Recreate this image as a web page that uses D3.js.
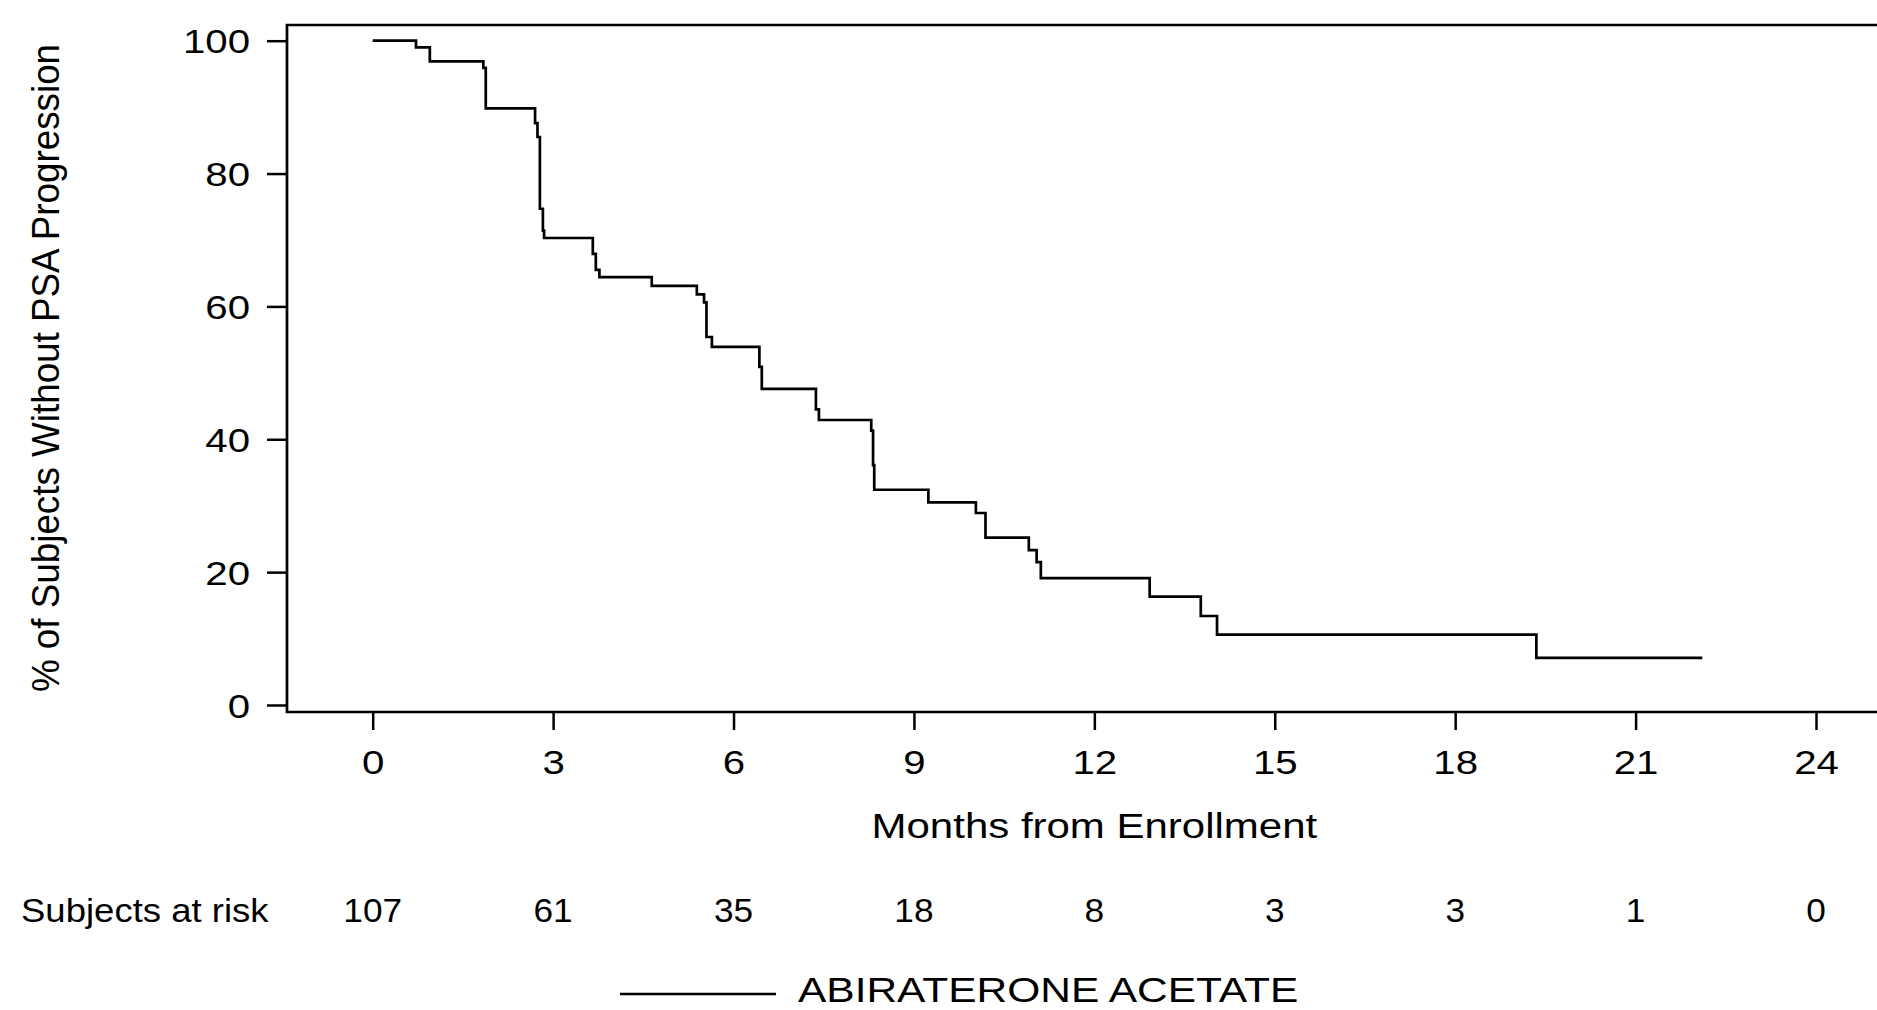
<!DOCTYPE html>
<html>
<head>
<meta charset="utf-8">
<script src="https://cdn.jsdelivr.net/npm/d3@7"></script>
<style>
  body { margin: 0; background: #fff; }
  svg { display: block; font-family: "Liberation Sans", Arial, sans-serif; }
</style>
</head>
<body>
<div id="km"></div>
<script>
// Kaplan-Meier estimate (months, % without PSA progression)
const months   = [0, 0.72, 0.95, 1.84, 1.88, 2.70, 2.74, 2.78, 2.83, 2.85, 3.66, 3.71, 3.77,
                  4.64, 5.39, 5.51, 5.55, 5.64, 6.43, 6.47, 7.37, 7.42, 8.29, 8.32, 8.34,
                  9.24, 10.03, 10.19, 10.91, 11.04, 11.11, 12.92, 13.77, 14.04, 19.35, 22.11];
const survival = [100, 99.0, 96.9, 95.9, 89.8, 87.6, 85.5, 74.7, 71.4, 70.3, 67.9, 65.5, 64.4,
                  63.1, 61.8, 60.6, 55.4, 53.9, 50.9, 47.6, 44.5, 42.9, 41.3, 36.1, 32.4,
                  30.5, 28.9, 25.2, 23.3, 21.5, 19.1, 16.3, 13.4, 10.6, 7.1, 7.1];

const xTicks = [0, 3, 6, 9, 12, 15, 18, 21, 24];
const yTicks = [0, 20, 40, 60, 80, 100];
const atRisk = [107, 61, 35, 18, 8, 3, 3, 1, 0];
const seriesName = "ABIRATERONE ACETATE";

drawKM("#km");

function drawKM(id) {
  const width = 1877, height = 1010;
  // frame of the plot area (right side runs off the picture like in the source)
  const frame = { left: 287, top: 25, bottom: 712 };

  const svg = d3.select(id).append("svg")
    .attr("width", width)
    .attr("height", height);

  const x = d3.scaleLinear().domain([0, 24]).range([372.7, 1816]);
  const y = d3.scaleLinear().domain([0, 100]).range([705, 40.7]);

  // small helper: the source text is drawn a bit wider than normal Arial
  function stretch(sel, tx, ty, sx) {
    sel.attr("transform", "translate(" + tx + "," + ty + ") scale(" + sx + ",1)");
  }

  // frame
  svg.append("path")
    .attr("d", "M" + (width + 5) + "," + frame.top + "H" + frame.left + "V" + frame.bottom + "H" + (width + 5))
    .attr("fill", "none")
    .attr("stroke", "#000")
    .attr("stroke-width", 2.7);

  // x axis
  const xAxis = svg.append("g")
    .attr("transform", "translate(0," + frame.bottom + ")")
    .call(d3.axisBottom(x).tickValues(xTicks).tickSize(18).tickSizeOuter(0));
  xAxis.select(".domain").remove();
  xAxis.attr("font-family", null);
  xAxis.selectAll(".tick line").attr("stroke", "#000").attr("stroke-width", 2.5);
  xAxis.selectAll(".tick text")
    .attr("y", null).attr("dy", null)
    .attr("fill", "#000")
    .style("font-size", "33.5px")
    .each(function() { stretch(d3.select(this), 0, 62, 1.2); });

  // y axis
  const yAxis = svg.append("g")
    .attr("transform", "translate(" + frame.left + ",0)")
    .call(d3.axisLeft(y).tickValues(yTicks).tickSize(20).tickSizeOuter(0));
  yAxis.select(".domain").remove();
  yAxis.attr("font-family", null);
  yAxis.selectAll(".tick line").attr("stroke", "#000").attr("stroke-width", 2.5);
  yAxis.selectAll(".tick text")
    .attr("x", null).attr("dy", "0.36em")
    .attr("fill", "#000")
    .style("font-size", "33.5px")
    .each(function() { stretch(d3.select(this), -37, 0, 1.2); });

  // y title
  svg.append("text")
    .attr("text-anchor", "middle")
    .attr("transform", "translate(58.5,368) scale(1.07,1) rotate(-90)")
    .style("font-size", "36.8px")
    .text("% of Subjects Without PSA Progression");

  // x title
  svg.append("text")
    .attr("text-anchor", "middle")
    .style("font-size", "35px")
    .text("Months from Enrollment")
    .call(stretch, x(12), 837.7, 1.2);

  // the KM curve
  const pts = months.map((m, i) => [m, survival[i]]);
  const line = d3.line()
    .x(d => x(d[0]))
    .y(d => y(d[1]))
    .curve(d3.curveStepAfter);

  svg.append("path")
    .datum(pts)
    .attr("d", line)
    .attr("fill", "none")
    .attr("stroke", "#000")
    .attr("stroke-width", 2.7);

  // subjects at risk row
  svg.append("text")
    .attr("text-anchor", "start")
    .style("font-size", "32.6px")
    .text("Subjects at risk")
    .call(stretch, 21, 921.7, 1.12);

  svg.selectAll(".risk")
    .data(atRisk)
    .enter()
    .append("text")
    .attr("class", "risk")
    .attr("text-anchor", "middle")
    .style("font-size", "32.6px")
    .text(d => d)
    .each(function(d, i) { stretch(d3.select(this), x(xTicks[i]), 921.7, 1.08); });

  // legend
  svg.append("line")
    .attr("x1", 620).attr("x2", 776)
    .attr("y1", 994).attr("y2", 994)
    .attr("stroke", "#000")
    .attr("stroke-width", 2.7);

  svg.append("text")
    .attr("text-anchor", "start")
    .style("font-size", "36px")
    .text(seriesName)
    .call(stretch, 798, 1002, 1.18);
}
</script>
</body>
</html>
